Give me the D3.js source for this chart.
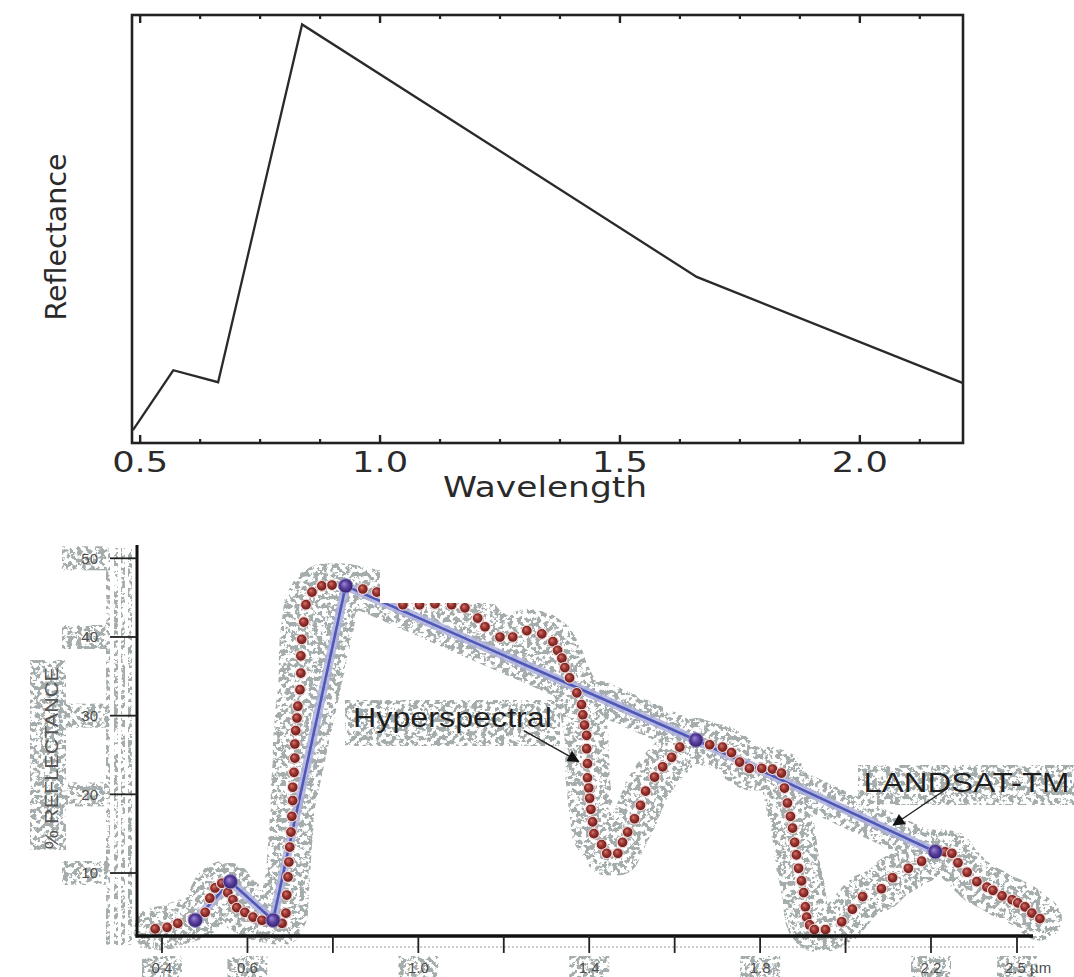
<!DOCTYPE html>
<html><head><meta charset="utf-8">
<script src="https://cdn.jsdelivr.net/npm/d3@7"></script>
<style>html,body{margin:0;padding:0;background:#fff;} svg{display:block}</style>
</head><body>
<svg id="chart" width="1074" height="977"></svg>
<script>
// ---------- Top chart data ----------
const topWavelength = [0.485, 0.569, 0.6625, 0.8375, 1.66, 2.215];
const topReflectance = [1.5, 8.5, 7.1, 48.9, 19.4, 7.0];
const topMajorTicks = [0.5, 1.0, 1.5, 2.0];
const topTickLabels = ["0.5", "1.0", "1.5", "2.0"];
const topMinorTicks = [0.625, 0.75, 0.875, 1.125, 1.25, 1.375, 1.625, 1.75, 1.875, 2.125];

// ---------- Bottom chart data ----------
const hyperWavelength = [
  0.384,0.412,0.437,0.473,0.501,0.512,0.524,0.540,0.559,0.554,
  0.566,0.575,0.594,0.613,0.634,0.657,0.681,0.690,0.692,0.695,
  0.697,0.699,0.702,0.704,0.706,0.706,0.709,0.711,0.711,0.713,
  0.716,0.718,0.723,0.725,0.725,0.727,0.732,0.737,0.751,0.774,
  0.798,0.833,0.870,0.903,0.933,0.964,1.003,1.039,1.078,1.109,
  1.139,1.156,1.191,1.221,1.254,1.289,1.315,1.326,1.336,1.343,
  1.354,1.371,1.382,1.385,1.389,1.394,1.394,1.396,1.396,1.399,
  1.401,1.404,1.408,1.411,1.429,1.441,1.467,1.478,1.490,1.506,
  1.520,1.532,1.553,1.572,1.593,1.612,1.651,1.682,1.712,1.733,
  1.752,1.775,1.804,1.829,1.850,1.857,1.864,1.871,1.876,1.881,
  1.885,1.890,1.897,1.902,1.906,1.909,1.916,1.927,1.953,1.991,
  2.016,2.040,2.084,2.110,2.147,2.178,2.224,2.249,2.273,2.294,
  2.326,2.360,2.395,2.416,2.448,2.483,2.503,2.528,2.552,2.580];
const hyperReflectance = [
  2.9,3.1,3.6,4.2,5.0,6.8,8.1,8.7,8.5,7.5,
  6.6,5.6,5.0,4.4,4.0,3.8,3.6,4.9,7.2,9.5,
  11.4,13.3,15.2,17.2,19.2,20.9,22.8,24.6,26.4,28.1,
  29.7,31.2,33.3,35.4,37.6,39.7,41.9,44.1,45.7,46.5,
  46.6,46.5,46.1,45.7,45.0,44.1,44.1,44.2,44.1,43.7,
  42.4,41.3,40.0,40.0,40.8,40.4,39.4,38.3,37.3,36.1,
  34.8,32.9,31.4,30.1,28.8,27.5,25.8,23.9,22.1,20.8,
  19.5,18.1,16.5,15.0,13.6,12.5,12.5,13.9,15.2,16.9,
  18.6,20.4,22.2,23.5,24.7,26.0,26.9,26.3,26.0,25.3,
  24.1,23.3,23.3,23.2,22.7,20.8,18.9,17.2,15.7,13.9,
  12.3,10.6,9.0,7.5,5.7,4.4,3.4,2.8,2.8,3.8,
  5.4,7.0,8.0,9.4,10.6,11.5,12.8,12.7,12.5,11.3,
  10.1,8.9,8.2,7.8,7.1,6.6,6.2,5.7,4.9,4.2];
const landsatWavelength = [0.478, 0.56, 0.66, 0.83, 1.65, 2.215];
const landsatReflectance = [4.0, 8.9, 4.0, 46.5, 26.9, 12.7];
const bottomTicks = [0.4, 0.6, 0.8, 1.0, 1.2, 1.4, 1.6, 1.8, 2.0, 2.2, 2.5];
const bottomTickLabels = ["0.4", "0.6", "", "1.0", "", "1.4", "", "1.8", "", "2.2", "2.5 µm"];
const yTicks = [10, 20, 30, 40, 50];
const yTickLabels = ["10", "20", "30", "40", "50"];

const svg = d3.select("#chart");
const defs = svg.append("defs");

// speckle filter (imitates the noisy grey halo of the scanned figure)
const f = defs.append("filter").attr("id", "speckle").attr("filterUnits", "userSpaceOnUse")
  .attr("x", 0).attr("y", 0).attr("width", 1074).attr("height", 977);
f.append("feTurbulence").attr("type", "fractalNoise").attr("baseFrequency", "0.22")
  .attr("numOctaves", 3).attr("seed", 11).attr("result", "noise");
f.append("feColorMatrix").attr("in", "noise").attr("type", "matrix")
  .attr("values", "0 0 0 0 0  0 0 0 0 0  0 0 0 0 0  14 0 0 0 -6.7").attr("result", "mask");
f.append("feComposite").attr("in", "SourceGraphic").attr("in2", "mask").attr("operator", "in");

const dg = defs.append("radialGradient").attr("id", "dotGrad")
  .attr("cx", "50%").attr("cy", "50%").attr("r", "55%").attr("fx", "38%").attr("fy", "35%");
dg.append("stop").attr("offset", "0%").attr("stop-color", "#d2786e");
dg.append("stop").attr("offset", "45%").attr("stop-color", "#9c3430");
dg.append("stop").attr("offset", "100%").attr("stop-color", "#561414");

const mg = defs.append("radialGradient").attr("id", "markGrad")
  .attr("cx", "50%").attr("cy", "50%").attr("r", "55%").attr("fx", "38%").attr("fy", "35%");
mg.append("stop").attr("offset", "0%").attr("stop-color", "#9a88d8");
mg.append("stop").attr("offset", "50%").attr("stop-color", "#5a3f9c");
mg.append("stop").attr("offset", "100%").attr("stop-color", "#2c1a5e");

defs.append("marker").attr("id", "arrow").attr("viewBox", "0 0 10 10").attr("refX", 9).attr("refY", 5)
  .attr("markerWidth", 16).attr("markerHeight", 12).attr("markerUnits", "userSpaceOnUse")
  .attr("orient", "auto")
  .append("path").attr("d", "M0,0 L10,5 L0,10 Z").attr("fill", "#111");

// ================= TOP CHART =================
const xT = d3.scaleLinear().domain([0.483, 2.215]).range([132, 963]);
const yT = d3.scaleLinear().domain([0, 50]).range([443, 15]);
const topG = svg.append("g");
const topFont = "'DejaVu Sans', sans-serif";

topG.append("rect").attr("x", xT.range()[0]).attr("y", yT.range()[1])
  .attr("width", xT.range()[1] - xT.range()[0]).attr("height", yT.range()[0] - yT.range()[1])
  .attr("fill", "none").attr("stroke", "#222").attr("stroke-width", 2.6);

topMajorTicks.forEach(v => {
  topG.append("line").attr("x1", xT(v)).attr("x2", xT(v)).attr("y1", 443).attr("y2", 435).attr("stroke", "#222").attr("stroke-width", 2.4);
  topG.append("line").attr("x1", xT(v)).attr("x2", xT(v)).attr("y1", 15).attr("y2", 23).attr("stroke", "#222").attr("stroke-width", 2.4);
});
topMinorTicks.forEach(v => {
  topG.append("line").attr("x1", xT(v)).attr("x2", xT(v)).attr("y1", 443).attr("y2", 439).attr("stroke", "#222").attr("stroke-width", 2.2);
  topG.append("line").attr("x1", xT(v)).attr("x2", xT(v)).attr("y1", 15).attr("y2", 19).attr("stroke", "#222").attr("stroke-width", 2.2);
});
topMajorTicks.forEach((v, i) => {
  topG.append("text").attr("x", xT(v)).attr("y", 472).attr("text-anchor", "middle")
    .attr("font-family", topFont).attr("font-size", 28).attr("fill", "#2a2a2a")
    .attr("textLength", 56).attr("lengthAdjust", "spacingAndGlyphs").text(topTickLabels[i]);
});
topG.append("text").attr("x", 545).attr("y", 497).attr("text-anchor", "middle")
  .attr("font-family", topFont).attr("font-size", 28).attr("fill", "#2a2a2a")
  .attr("textLength", 204).attr("lengthAdjust", "spacingAndGlyphs").text("Wavelength");
topG.append("text").attr("transform", "translate(66,237) rotate(-90)").attr("text-anchor", "middle")
  .attr("font-family", topFont).attr("font-size", 28).attr("fill", "#2a2a2a")
  .attr("textLength", 167).attr("lengthAdjust", "spacingAndGlyphs").text("Reflectance");

const topLine = d3.line().x(d => xT(d[0])).y(d => yT(d[1]));
topG.append("path").datum(d3.zip(topWavelength, topReflectance)).attr("d", topLine)
  .attr("fill", "none").attr("stroke", "#2a2a2a").attr("stroke-width", 2.3).attr("stroke-linejoin", "miter");

// ================= BOTTOM CHART =================
const xB = d3.scaleLinear().domain([0.4, 2.2, 2.5]).range([162, 931, 1017]);
const yB = d3.scaleLinear().domain([0, 50]).range([951.7, 558.3]);
const bot = svg.append("g");
const axisY = yB(2);
const axisX = 137;
const grey = "#a5adac";
const hyper = d3.zip(hyperWavelength, hyperReflectance);
const land = d3.zip(landsatWavelength, landsatReflectance);
const lineB = d3.line().x(d => xB(d[0])).y(d => yB(d[1]));

// noisy grey halo artefacts
const noise = bot.append("g").attr("filter", "url(#speckle)");
noise.append("path").datum(hyper).attr("d", lineB).attr("fill", "none").attr("stroke", grey)
  .attr("stroke-width", 44).attr("stroke-linejoin", "round").attr("stroke-linecap", "round");
noise.append("path").datum(land).attr("d", lineB).attr("fill", "none").attr("stroke", grey)
  .attr("stroke-width", 34).attr("stroke-linejoin", "round").attr("stroke-linecap", "round");
[108, 116, 123, 130].forEach(x => noise.append("line").attr("x1", x).attr("x2", x)
  .attr("y1", 548).attr("y2", 945).attr("stroke", grey).attr("stroke-width", 4));
yTicks.forEach(v => noise.append("rect").attr("x", 62).attr("y", yB(v) - 12).attr("width", 48).attr("height", 24).attr("fill", grey));
bottomTicks.forEach((v, i) => { if (bottomTickLabels[i]) noise.append("rect").attr("x", xB(v) - 20).attr("y", 956).attr("width", 40).attr("height", 22).attr("fill", grey); });
noise.append("rect").attr("x", 30).attr("y", 660).attr("width", 36).attr("height", 190).attr("fill", grey);
noise.append("rect").attr("x", 345).attr("y", 700).attr("width", 215).attr("height", 46).attr("fill", grey);
noise.append("rect").attr("x", 858).attr("y", 765).attr("width", 216).attr("height", 40).attr("fill", grey);
bot.append("line").attr("x1", 140).attr("x2", 1035).attr("y1", axisY + 11).attr("y2", axisY + 11)
  .attr("stroke", "#b7bdbd").attr("stroke-width", 1.5).attr("stroke-dasharray", "2,2");

// Landsat TM line with light halo
bot.append("path").datum(land).attr("d", lineB).attr("fill", "none").attr("stroke", "#aeb2dc")
  .attr("stroke-width", 9).attr("stroke-linejoin", "round").attr("opacity", 0.85);
bot.append("path").datum(land).attr("d", lineB).attr("fill", "none").attr("stroke", "#4f58b8")
  .attr("stroke-width", 2.6).attr("stroke-linejoin", "round");

// hyperspectral dots
bot.append("g").selectAll("circle").data(hyper).join("circle")
  .attr("cx", d => xB(d[0])).attr("cy", d => yB(d[1])).attr("r", 5.4)
  .attr("fill", "url(#dotGrad)").attr("stroke", "#f2d8d6").attr("stroke-width", 1.1);

// Landsat band markers
bot.append("g").selectAll("circle").data(land).join("circle")
  .attr("cx", d => xB(d[0])).attr("cy", d => yB(d[1])).attr("r", 7.2)
  .attr("fill", "url(#markGrad)").attr("stroke", "#8f86c8").attr("stroke-width", 1);

// white masking block present in the original figure
bot.append("rect").attr("x", 380).attr("y", 540).attr("width", 180).attr("height", 63).attr("fill", "#fff");

// axes
bot.append("line").attr("x1", axisX).attr("x2", axisX).attr("y1", 545).attr("y2", axisY + 1.5)
  .attr("stroke", "#111").attr("stroke-width", 3);
bot.append("line").attr("x1", axisX - 1.5).attr("x2", 1033).attr("y1", axisY).attr("y2", axisY)
  .attr("stroke", "#111").attr("stroke-width", 3.6);
yTicks.forEach((v, i) => {
  bot.append("line").attr("x1", 110).attr("x2", axisX).attr("y1", yB(v)).attr("y2", yB(v))
    .attr("stroke", "#222").attr("stroke-width", 1.8);
  bot.append("text").attr("x", 98).attr("y", yB(v)).attr("dy", "0.35em").attr("text-anchor", "end")
    .attr("font-family", "'Liberation Sans', Arial, sans-serif").attr("font-size", 15).attr("fill", "#4d4d4d")
    .text(yTickLabels[i]);
});
bottomTicks.forEach((v, i) => {
  bot.append("line").attr("x1", xB(v)).attr("x2", xB(v)).attr("y1", axisY).attr("y2", axisY + 17)
    .attr("stroke", "#222").attr("stroke-width", 1.8);
  const last = i === bottomTicks.length - 1;
  bot.append("text").attr("x", last ? xB(v) - 12 : xB(v)).attr("y", 968).attr("dy", "0.35em")
    .attr("text-anchor", last ? "start" : "middle")
    .attr("font-family", "'Liberation Sans', Arial, sans-serif").attr("font-size", 15).attr("fill", "#4d4d4d")
    .text(bottomTickLabels[i]);
});
bot.append("text").attr("transform", `translate(58,${yB(24.6)}) rotate(-90)`).attr("text-anchor", "middle")
  .attr("font-family", "'Liberation Sans', Arial, sans-serif").attr("font-size", 19).attr("fill", "#555")
  .attr("textLength", 182).attr("lengthAdjust", "spacingAndGlyphs").text("% REFLECTANCE");

// annotations (positioned in data coordinates)
bot.append("text").attr("x", xB(0.847)).attr("y", yB(28.6))
  .attr("font-family", "'Liberation Sans', Arial, sans-serif").attr("font-size", 27).attr("fill", "#1e1e1e")
  .attr("textLength", 199).attr("lengthAdjust", "spacingAndGlyphs").text("Hyperspectral");
bot.append("line").attr("x1", xB(1.247)).attr("y1", yB(28.1)).attr("x2", xB(1.375)).attr("y2", yB(24.2))
  .attr("stroke", "#222").attr("stroke-width", 1.4).attr("marker-end", "url(#arrow)");
bot.append("text").attr("x", xB(2.042)).attr("y", yB(20.3))
  .attr("font-family", "'Liberation Sans', Arial, sans-serif").attr("font-size", 28).attr("fill", "#1e1e1e")
  .attr("textLength", 206).attr("lengthAdjust", "spacingAndGlyphs").text("LANDSAT-TM");
bot.append("line").attr("x1", xB(2.259)).attr("y1", yB(20.8)).attr("x2", xB(2.112)).attr("y2", yB(16.1))
  .attr("stroke", "#222").attr("stroke-width", 1.4).attr("marker-end", "url(#arrow)");
</script>
</body></html>
